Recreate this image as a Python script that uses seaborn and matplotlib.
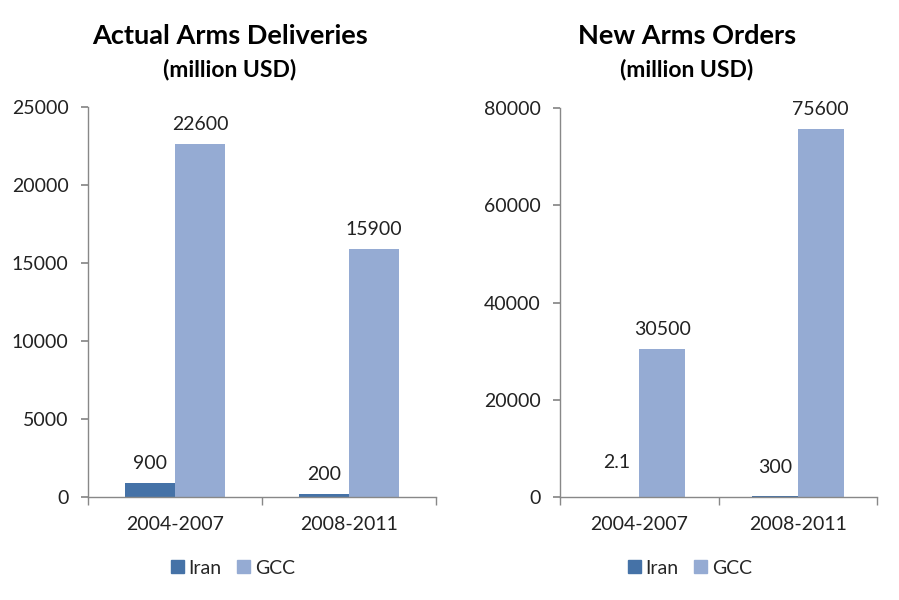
import matplotlib
matplotlib.use("Agg")
import matplotlib.pyplot as plt
import seaborn as sns
import pandas as pd
from matplotlib.patches import Patch

periods = ["2004-2007", "2008-2011"]
series = ["Iran", "GCC"]
deliveries_iran = [900, 200]
deliveries_gcc = [22600, 15900]
orders_iran = [2.1, 300]
orders_gcc = [30500, 75600]
deliveries_labels = [["900", "200"], ["22600", "15900"]]
orders_labels = [["2.1", "300"], ["30500", "75600"]]
colors = {"Iran": "#4572A7", "GCC": "#95ABD3"}

sns.set_theme(style="white")
plt.rcParams["font.family"] = ["Lato", "DejaVu Sans"]

fig = plt.figure(figsize=(8.99, 6.0), dpi=100)
W, H = 899, 600
ax1 = fig.add_axes([88 / W, 1 - 497 / H, (436 - 88) / W, (497 - 107) / H])
ax2 = fig.add_axes([560 / W, 1 - 497 / H, (877 - 560) / W, (497 - 108) / H])


def make_df(iran, gcc):
    rows = []
    for p, v in zip(periods, iran):
        rows.append({"period": p, "series": "Iran", "value": v})
    for p, v in zip(periods, gcc):
        rows.append({"period": p, "series": "GCC", "value": v})
    return pd.DataFrame(rows)


def draw(ax, iran, gcc, labels, pads, ymax, step, legend_x):
    df = make_df(iran, gcc)
    sns.barplot(data=df, x="period", y="value", hue="series", hue_order=series,
                palette=colors, width=0.58, ax=ax, saturation=1, legend=False,
                errorbar=None, linewidth=0)
    for cont, labs, pd_ in zip(ax.containers, labels, pads):
        for bar, lab, p in zip(cont, labs, pd_):
            ax.annotate(lab, (bar.get_x() + bar.get_width() / 2, bar.get_height()),
                        xytext=(0, p), textcoords="offset points", ha="center",
                        va="bottom", fontsize=14, color="#222222")
    ax.set_ylim(0, ymax)
    ax.set_xlim(-0.5, 1.5)
    ax.set_yticks(range(0, ymax + 1, step))
    ax.tick_params(axis="y", labelsize=14, length=5, direction="out", color="#888888",
                   left=True, pad=9, labelcolor="#222222")
    ax.tick_params(axis="x", labelsize=14, length=0, pad=14, labelcolor="#222222")
    ax.set_xticks([-0.5, 0.5, 1.5], minor=True)
    ax.tick_params(axis="x", which="minor", length=6, color="#888888", bottom=True,
                   direction="out")
    for s in ["top", "right"]:
        ax.spines[s].set_visible(False)
    for s in ["left", "bottom"]:
        ax.spines[s].set_color("#888888")
        ax.spines[s].set_linewidth(1)
    ax.set_xlabel("")
    ax.set_ylabel("")
    handles = [Patch(color=colors[s], label=s) for s in series]
    fig.legend(handles=handles, loc="center", bbox_to_anchor=(legend_x / W, 1 - 568 / H),
               ncol=2, frameon=False, fontsize=14, handlelength=0.65, handleheight=0.65,
               handletextpad=0.25, columnspacing=0.8)


draw(ax1, deliveries_iran, deliveries_gcc, deliveries_labels,
     [[8, 8], [8, 8]], 25000, 5000, 233)
draw(ax2, orders_iran, orders_gcc, orders_labels,
     [[19, 14], [8, 8]], 80000, 20000, 690)

fig.text(230 / W, 1 - 36 / H, "Actual Arms Deliveries", ha="center", va="center",
         fontsize=19.5, fontweight="bold", color="black")
fig.text(230 / W, 1 - 70 / H, "(million USD)", ha="center", va="center",
         fontsize=16.5, fontweight="bold", color="black")
fig.text(687 / W, 1 - 36 / H, "New Arms Orders", ha="center", va="center",
         fontsize=19.5, fontweight="bold", color="black")
fig.text(687 / W, 1 - 70 / H, "(million USD)", ha="center", va="center",
         fontsize=16.5, fontweight="bold", color="black")

fig.savefig("out.png", dpi=100, facecolor="white")
